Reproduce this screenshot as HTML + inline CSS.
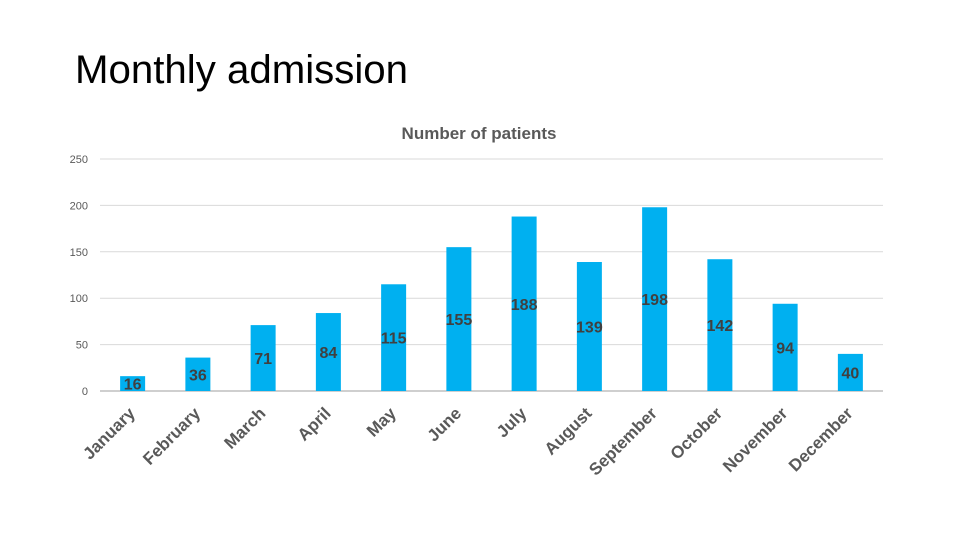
<!DOCTYPE html>
<html><head><meta charset="utf-8"><style>
body{margin:0;background:#fff;width:960px;height:540px;overflow:hidden}
svg{display:block;font-family:"Liberation Sans",sans-serif}
</style></head><body>
<svg id="c" width="960" height="540">
<text x="75" y="83" font-size="40" fill="#000" textLength="333" lengthAdjust="spacingAndGlyphs">Monthly admission</text>
<text x="479" y="139" font-size="17" font-weight="bold" fill="#595959" text-anchor="middle">Number of patients</text>
<g id="grid"></g><g id="bars"></g><g id="labels"></g>
</svg>
<script>
const categories=["January","February","March","April","May","June","July","August","September","October","November","December"];
const values=[16,36,71,84,115,155,188,139,198,142,94,40];
const yTicks=[0,50,100,150,200,250];
const NS="http://www.w3.org/2000/svg";
const x0=100,x1=883,yb=391,yt=159,ymax=250;
const bw=(x1-x0)/categories.length;
const y=v=>yb-(v/ymax)*(yb-yt);
const xc=i=>x0+bw*(i+0.5);
function mk(t,a,p){const e=document.createElementNS(NS,t);for(const k in a)e.setAttribute(k,a[k]);p.appendChild(e);return e;}
const g=document.getElementById('grid'),b=document.getElementById('bars'),l=document.getElementById('labels');
yTicks.forEach(t=>{
 const ln=mk('line',{x1:x0,x2:x1,y1:y(t),y2:y(t),stroke:t===0?'#bfbfbf':'#d9d9d9','stroke-width':t===0?1.5:1},g);
 
 
 const tx=mk('text',{x:88,y:y(t)+4,'font-size':11,fill:'#595959','text-anchor':'end'},g);
 tx.textContent=t;
 
 
});
categories.forEach((c,i)=>{
 const v=values[i];
 const r=mk('rect',{x:xc(i)-12.5,y:y(v),width:25,height:yb-y(v),fill:'#00b0f0'},b);
 
 
 const t=mk('text',{x:xc(i),y:y(v/2)+6,'font-size':16,'font-weight':'bold',fill:'#404040','text-anchor':'middle'},l);
 t.textContent=v;
 
 
 const xl=mk('text',{transform:`translate(${xc(i)-5},${406}) rotate(-45)`,'font-size':17,'font-weight':'bold',fill:'#595959','text-anchor':'end',dy:'0.7em'},l);
 xl.textContent=c;
 
 
});
</script>
</body></html>
